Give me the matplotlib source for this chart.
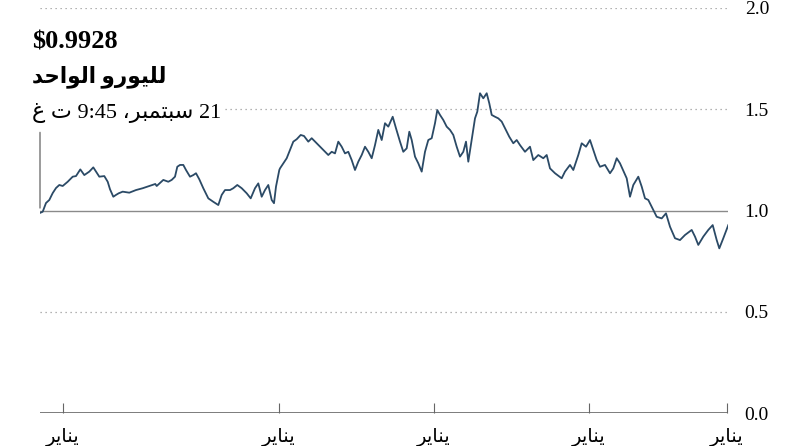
import matplotlib.pyplot as plt

# time axis: position along the period (0 = first trading day)
t = [0, 2.7, 6, 9.3, 12.7, 16, 19.3, 22.7, 27.7, 32.7, 36, 40.3, 44.3, 49.3, 53.3,
     56, 59.3, 64.3, 67.7, 70, 73.3, 76, 78.7, 82.7, 89.3, 96, 102.7, 109.3, 115.3,
     116.7, 123.3, 128.3, 131.7, 135, 137.3, 140, 143.3, 146, 150, 153.3, 156, 159.3,
     163.3, 168.3, 173.3, 178.3, 181.7, 185, 190, 193.3, 197.3, 201.7, 206.7, 210.7,
     215, 218.3, 221.7, 225, 228.3, 231.7, 234, 236, 239.3, 240, 243.3, 246.7, 250,
     253.3, 256.7, 260.7, 264, 268.3, 271.7, 276.7, 281.7, 285, 288.3, 291.7, 295,
     298.3, 301.7, 305, 308.3, 311.7, 315, 318.3, 321.7, 325, 328.3, 331.7, 335,
     338.3, 341.7, 345, 348.3, 352.7, 356, 360, 363.3, 366.7, 369.3, 371.7, 375,
     378.3, 381.7, 385, 388.3, 391.7, 395, 397.3, 400, 403.3, 406.7, 410, 413.3,
     416.7, 420, 423.3, 426, 428.3, 431.7, 435, 437.3, 440, 443.3, 446.7, 449.3,
     451.7, 455, 458.3, 461.7, 465, 469.3, 473.3, 476.7, 480, 485, 490, 493.3, 498.3,
     503.3, 506.7, 510, 515, 521.7, 525, 530, 533.3, 538.3, 541.7, 546, 550, 553.3,
     556.7, 560, 565, 570, 573.3, 576.7, 580, 586.7, 590, 593.3, 598.3, 601.7, 605,
     608.3, 613.3, 616.7, 621.7, 626, 630, 635, 640, 645, 651.7, 655, 658.3, 663.3,
     668.3, 672.7, 676.7, 679.3, 683.3, 688.3]
rate = [0.988, 0.994, 1.037, 1.052, 1.086, 1.111, 1.126, 1.121, 1.142, 1.167, 1.170,
        1.203, 1.175, 1.192, 1.213, 1.192, 1.167, 1.170, 1.142, 1.105, 1.068, 1.077,
        1.085, 1.093, 1.088, 1.101, 1.110, 1.121, 1.131, 1.121, 1.151, 1.142, 1.151,
        1.167, 1.216, 1.225, 1.225, 1.200, 1.167, 1.175, 1.184, 1.154, 1.110, 1.060,
        1.043, 1.027, 1.077, 1.101, 1.101, 1.110, 1.126, 1.110, 1.085, 1.060, 1.110,
        1.134, 1.068, 1.101, 1.126, 1.052, 1.036, 1.118, 1.200, 1.208, 1.233, 1.258,
        1.299, 1.340, 1.352, 1.373, 1.368, 1.340, 1.357, 1.332, 1.307, 1.290, 1.274,
        1.290, 1.282, 1.340, 1.315, 1.282, 1.290, 1.249, 1.200, 1.241, 1.274, 1.315,
        1.290, 1.258, 1.323, 1.398, 1.348, 1.431, 1.414, 1.463, 1.406, 1.340, 1.290,
        1.307, 1.389, 1.348, 1.266, 1.233, 1.192, 1.290, 1.348, 1.357, 1.431, 1.496,
        1.472, 1.447, 1.414, 1.398, 1.373, 1.315, 1.266, 1.290, 1.340, 1.241, 1.348,
        1.455, 1.488, 1.579, 1.554, 1.579, 1.529, 1.472, 1.463, 1.455, 1.439, 1.406,
        1.364, 1.332, 1.348, 1.323, 1.290, 1.315, 1.249, 1.274, 1.258, 1.274, 1.208,
        1.184, 1.159, 1.192, 1.225, 1.200, 1.274, 1.332, 1.315, 1.348, 1.299, 1.249,
        1.216, 1.225, 1.184, 1.208, 1.258, 1.233, 1.159, 1.068, 1.126, 1.167, 1.118,
        1.060, 1.052, 1.002, 0.969, 0.961, 0.986, 0.920, 0.863, 0.854, 0.879, 0.904,
        0.871, 0.830, 0.871, 0.904, 0.928, 0.854, 0.813, 0.863, 0.928]

jan_ticks = [23, 239, 394, 549, 687]
yticks = [0.0, 0.5, 1.0, 1.5, 2.0]

# Arabic text written in shaped presentation forms, visual (left-to-right) order
jan_label = '\uFEAE\uFEF3\uFE8E\uFEE8\uFEF3'  # يناير
per_euro = ('\uFEAA\uFEA3\uFE8D\uFEEE\uFEDF\uFE8D' + ' ' +
            '\uFEED\uFEAD\uFEEE\uFEF4\uFEE0\uFEDF')  # لليورو الواحد
date_txt = ('\uFECD \uFE95 9:45 \u060C' +
            '\uFEAE\uFE92\uFEE4\uFE98\uFE92\uFEB3' + ' 21')  # 21 سبتمبر، 9:45 ت غ
price_txt = '$0.9928'

fam = ['Liberation Serif', 'DejaVu Sans']
plt.rcParams['font.family'] = fam

fig = plt.figure(figsize=(7.92, 4.46), dpi=100)
ax = fig.add_axes([40 / 792, 1 - 413 / 446, 688 / 792, 405 / 446])

for v in yticks:
    if v == 1.0:
        ax.axhline(v, color='#8a8a8a', lw=1.0, zorder=1)
    elif v == 0.0:
        ax.axhline(v, color='#666666', lw=1.2, zorder=1)
    else:
        ax.axhline(v, color='#9a9a9a', lw=0.9, ls=(0, (1, 3)), zorder=1)

ax.plot(t, rate, color='#2b4a66', lw=1.3, zorder=3)

ax.annotate('', xy=(t[0], rate[0] + 0.025), xytext=(t[0], 1.385),
            arrowprops=dict(arrowstyle='-', color='#8a8a8a', lw=1.2,
                            shrinkA=0, shrinkB=0))

ax.set_xlim(0, 688)
ax.set_ylim(0, 2.0)
for s in ax.spines.values():
    s.set_visible(False)

ax.set_xticks(jan_ticks)
ax.set_xticklabels([jan_label] * len(jan_ticks), fontsize=14)
ax.tick_params(axis='x', direction='in', length=7, width=0.8, color='#666666',
               pad=10)
ax.yaxis.tick_right()
ax.set_yticks(yticks)
ax.set_yticklabels([f'{v:.1f}' for v in yticks], fontsize=14)
ax.tick_params(axis='y', length=0, pad=12)

fig.text(32 / 792, 1 - 48 / 446, price_txt, fontsize=19, fontweight='bold',
         ha='left', va='baseline', family=fam)
fig.text(32 / 792, 1 - 82 / 446, per_euro, fontsize=15.5, fontweight='bold',
         ha='left', va='baseline', family=fam)
fig.text(32 / 792, 1 - 118 / 446, date_txt, fontsize=16,
         ha='left', va='baseline', family=fam,
         bbox=dict(facecolor='white', edgecolor='none', pad=2))

fig.savefig('out.png', dpi=100)
